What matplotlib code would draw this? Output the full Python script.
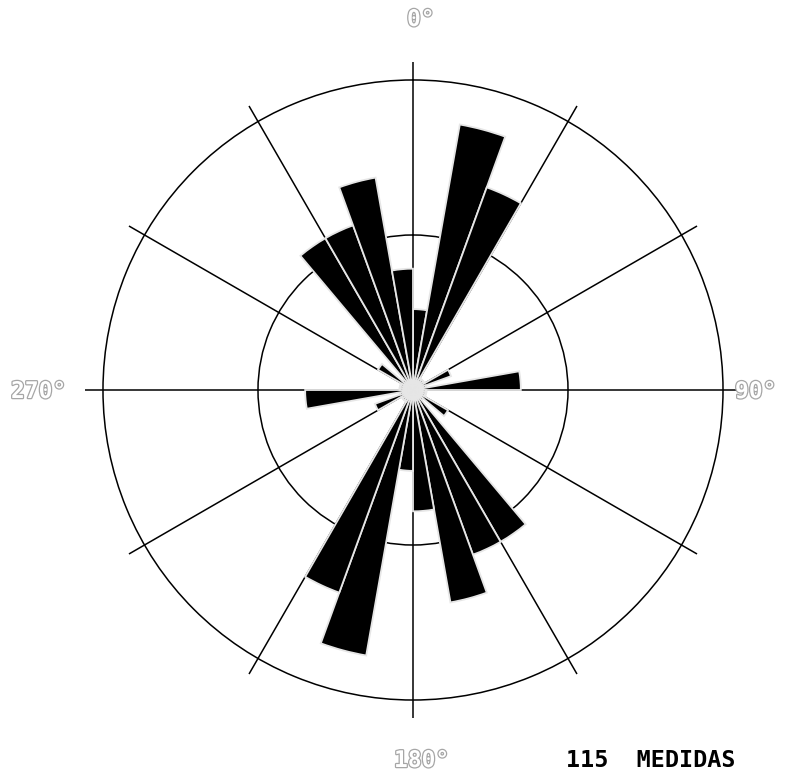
import numpy as np
import matplotlib
matplotlib.use("Agg")
import matplotlib.pyplot as plt
import matplotlib.patheffects as pe

# 10-degree classes from 0 to 180 (axial data, mirrored onto 180-360)
class_start = np.arange(0, 180, 10)
counts = [6, 20, 16, 1, 1, 1, 3, 1, 8, 1, 1, 1, 3, 1, 13, 13, 16, 9]
n_total = 115

direction_labels = ["0°", "90°", "180°", "270°"]

pct = np.array(counts) / n_total * 100
centers = np.concatenate([class_start, class_start + 180]) + 5
heights = np.concatenate([pct, pct])

fig = plt.figure(figsize=(8.06, 7.78), dpi=100)
ax = fig.add_axes([85 / 806, 60 / 778, 656 / 806, 656 / 778], projection="polar")
ax.set_theta_zero_location("N")
ax.set_theta_direction(-1)

ax.bar(np.deg2rad(centers), heights, width=np.deg2rad(10), align="center",
       color="black", edgecolor="#e6e6e6", linewidth=1.3, zorder=3)

ax.set_ylim(0, 21.16)
ax.set_xticks(np.deg2rad(np.arange(0, 360, 30)))
ax.set_xticklabels([])
ax.set_yticks([10, 20])
ax.set_yticklabels([])
ax.grid(True, color="black", linewidth=1.1)
ax.set_axisbelow(True)
ax.spines["polar"].set_visible(False)

outline = [pe.withStroke(linewidth=1.8, foreground="#a6a6a6")]
label_font = dict(family="DejaVu Sans Mono", weight="bold", size=16.5,
                  color="white", va="baseline", ha="left", path_effects=outline)
# label anchors in pixels from the top-left corner
label_pos = [(407, 26), (735, 398), (394, 767), (11, 398)]
for text, (px, py) in zip(direction_labels, label_pos):
    fig.text(px / 806, 1 - py / 778, text, **label_font)

fig.text(566 / 806, 1 - 767 / 778, f"{n_total}  MEDIDAS", family="DejaVu Sans Mono",
         weight="bold", size=16.8, color="black", va="baseline", ha="left")

fig.savefig("out.png", dpi=100, facecolor="white")
